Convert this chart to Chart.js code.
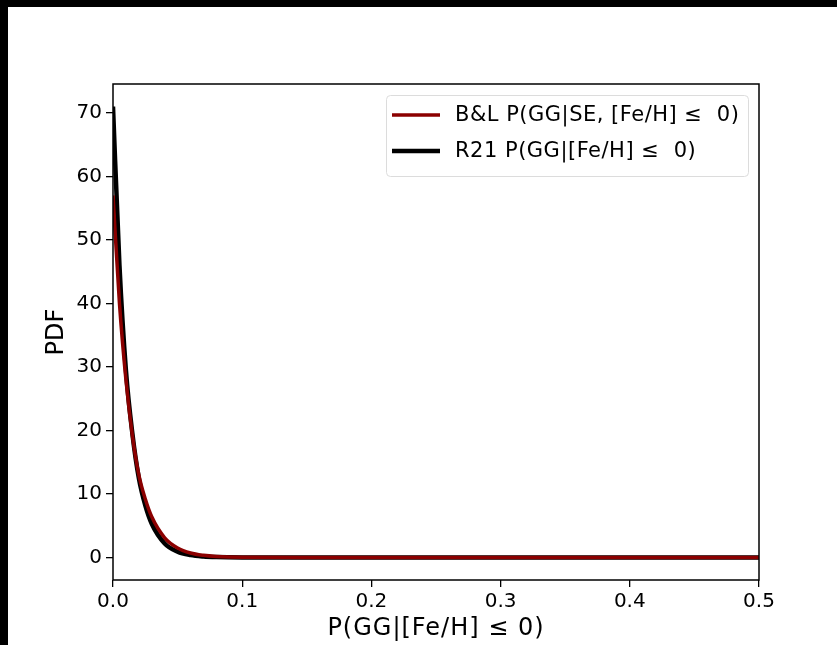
<!DOCTYPE html>
<html>
<head>
<meta charset="utf-8">
<script src="https://cdn.jsdelivr.net/npm/chart.js@4/dist/chart.umd.min.js"></script>
<style>
  html, body { margin: 0; padding: 0; background: #000; }
  body { width: 837px; height: 645px; position: relative; overflow: hidden; }
  #wrap { position: absolute; left: 8px; top: 7px; width: 829px; height: 638px; background: #fff; }
</style>
</head>
<body>
<div id="wrap"><canvas id="pdfChart" width="829" height="638"></canvas></div>
<script>
// values
var xValues = [0, 0.005, 0.01, 0.015, 0.02, 0.025, 0.03, 0.04, 0.05, 0.06, 0.07, 0.08, 0.1, 0.15, 0.2, 0.3, 0.4, 0.5];
var blValues = [57, 40, 28, 19.2, 13, 9.2, 6.4, 3.1, 1.5, 0.7, 0.33, 0.15, 0.03, 0.01, 0, 0, 0, 0];
var r21Values = [71, 46, 29.5, 19.5, 12.5, 8.2, 5.3, 2.2, 0.9, 0.37, 0.15, 0.06, 0.01, 0, 0, 0, 0, 0];
var xTicks = [0, 0.1, 0.2, 0.3, 0.4, 0.5];
var yTicks = [0, 10, 20, 30, 40, 50, 60, 70];
var seriesLabels = ["B&L P(GG|SE, [Fe/H] \u2264  0)", "R21 P(GG|[Fe/H] \u2264  0)"];
var xTitle = "P(GG|[Fe/H] \u2264 0)";

var FONT = "'DejaVu Sans', sans-serif";

function toPoints(ys) {
    return xValues.map(function(x, i) { return {x: x, y: ys[i]}; });
}

// box around the axes, x title, legend inside the plot
var framePlugin = {
    id: "frame",
    afterDraw: function(chart) {
        var ctx = chart.ctx;
        var a = chart.chartArea;
        ctx.save();
        ctx.strokeStyle = "#000";
        ctx.lineWidth = 1.5;
        ctx.strokeRect(a.left, a.top, a.right - a.left, a.bottom - a.top);

        // x axis title (drawn here to get the spacing right)
        ctx.fillStyle = "#000";
        ctx.font = "24px " + FONT;
        ctx.letterSpacing = "1px";
        ctx.textAlign = "center";
        ctx.textBaseline = "alphabetic";
        ctx.fillText(xTitle, (a.left + a.right) / 2, 628);

        // legend box
        var bx = 378, by = 88, bw = 362, bh = 81;
        ctx.fillStyle = "rgba(255,255,255,0.8)";
        ctx.strokeStyle = "#dcdcdc";
        ctx.lineWidth = 1;
        ctx.beginPath();
        ctx.roundRect(bx + 0.5, by + 0.5, bw, bh, 4);
        ctx.fill();
        ctx.stroke();

        ctx.font = "21px " + FONT;
        ctx.letterSpacing = "0.5px";
        ctx.textBaseline = "middle";
        ctx.textAlign = "left";
        chart.data.datasets.forEach(function(ds, i) {
            var ly = by + 20 + i * 36;
            ctx.strokeStyle = ds.borderColor;
            ctx.lineWidth = ds.borderWidth;
            ctx.beginPath();
            ctx.moveTo(bx + 6, ly);
            ctx.lineTo(bx + 54, ly);
            ctx.stroke();
            ctx.fillStyle = "#000";
            ctx.fillText(ds.label, bx + 69, ly + 1);
        });
        ctx.restore();
    }
};

var pdfChart = new Chart(document.getElementById("pdfChart"), {
    type: "line",
    data: {
        datasets: [{
            label: seriesLabels[0],
            data: toPoints(blValues),
            borderColor: "#8b0000",
            borderWidth: 3.5,
            pointRadius: 0,
            cubicInterpolationMode: "monotone",
            fill: false
        }, {
            label: seriesLabels[1],
            data: toPoints(r21Values),
            borderColor: "#000000",
            borderWidth: 4.5,
            pointRadius: 0,
            cubicInterpolationMode: "monotone",
            fill: false
        }]
    },
    options: {
        responsive: false,
        animation: false,
        layout: { padding: { left: 0, top: 77, right: 78, bottom: 0 } },
        plugins: {
            legend: { display: false },
            tooltip: { enabled: false }
        },
        scales: {
            x: {
                type: "linear",
                min: 0,
                max: 0.5,
                afterBuildTicks: function(s) { s.ticks = xTicks.map(function(v) { return {value: v}; }); },
                afterFit: function(s) { s.height = 65; },
                grid: { display: true, drawOnChartArea: false, drawTicks: true, tickLength: 7, color: "#000", lineWidth: 1.3 },
                border: { display: false },
                ticks: {
                    color: "#000",
                    font: { family: FONT, size: 20 },
                    padding: 3,
                    maxRotation: 0,
                    callback: function(v) { return Number(v).toFixed(1); }
                },
                title: { display: false }
            },
            y: {
                type: "linear",
                min: -3.55,
                max: 74.55,
                afterBuildTicks: function(s) { s.ticks = yTicks.map(function(v) { return {value: v}; }); },
                afterFit: function(s) { s.width = 105; },
                grid: { display: true, drawOnChartArea: false, drawTicks: true, tickLength: 7, color: "#000", lineWidth: 1.3 },
                border: { display: false },
                ticks: {
                    color: "#000",
                    font: { family: FONT, size: 20 },
                    padding: 4
                },
                title: {
                    display: true,
                    text: "PDF",
                    color: "#000",
                    font: { family: FONT, size: 24 },
                    padding: { top: 34, bottom: 0 }
                }
            }
        }
    },
    plugins: [framePlugin]
});
</script>
</body>
</html>
